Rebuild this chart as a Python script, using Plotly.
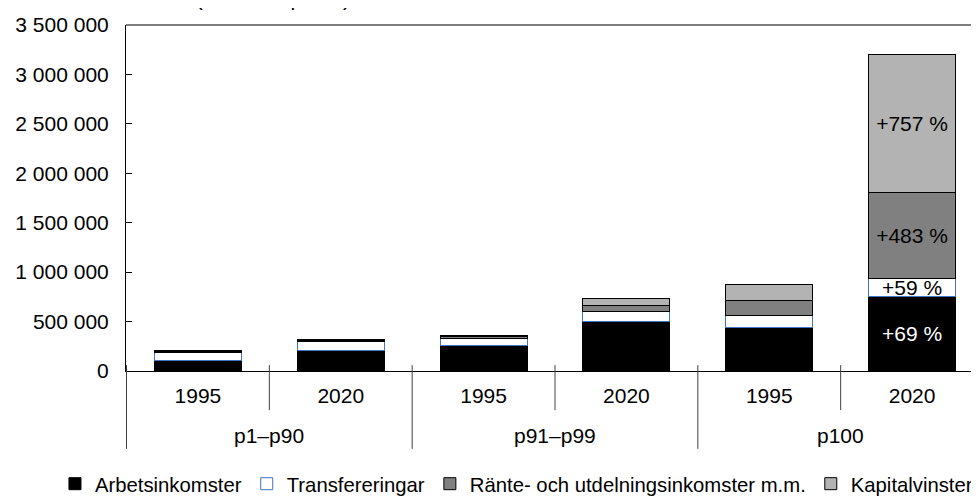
import plotly.graph_objects as go

# Inkomstgrupper och år
groups = ["p1–p90", "p91–p99", "p100"]
years = ["1995", "2020"]
categories = [f"{g} {y}" for g in groups for y in years]
year_labels = [y for g in groups for y in years]

# Inkomstkomponenter, kronor per person
arbetsinkomster = [110000, 212000, 262000, 504000, 444000, 750000]
transfereringar = [78000, 90000, 65000, 100000, 118000, 188000]
rante_utdelning = [10000, 10000, 18000, 60000, 148000, 863000]
kapitalvinster = [8000, 8000, 12000, 70000, 163000, 1397000]

# Procentuell förändring 1995-2020 för p100 (visas i sista stapeln)
change_labels = ["+69 %", "+59 %", "+483 %", "+757 %"]

series = [
    ("Arbetsinkomster", arbetsinkomster, "black", "black", "white"),
    ("Transfereringar", transfereringar, "white", "#4472C4", "black"),
    ("Ränte- och utdelningsinkomster m.m.", rante_utdelning, "#808080", "black", "black"),
    ("Kapitalvinster", kapitalvinster, "#b3b3b3", "black", "black"),
]

FONT = "Liberation Sans, Arial, sans-serif"
FS = 21

fig = go.Figure()
for (name, vals, fill, line, txtcol), lab in zip(series, change_labels):
    text = [""] * (len(vals) - 1) + [lab]
    fig.add_trace(go.Bar(
        name=name,
        x=categories,
        y=vals,
        marker=dict(color=fill, line=dict(color=line, width=1)),
        text=text,
        textposition="inside",
        insidetextanchor="middle",
        textangle=0,
        textfont=dict(color=txtcol, size=FS, family=FONT),
        hoverinfo="skip",
    ))

# sidan har 8 px marginal i webbläsaren, därav t=17 och l=118
fig.update_layout(
    barmode="stack",
    bargap=0.39,
    width=979,
    height=499,
    margin=dict(l=118, r=3, t=17, b=136, autoexpand=False),
    plot_bgcolor="white",
    paper_bgcolor="white",
    separators=", ",
    font=dict(family=FONT, size=FS, color="black"),
    uniformtext=dict(minsize=FS, mode="show"),
    showlegend=True,
    legend=dict(
        orientation="h",
        traceorder="normal",
        x=-0.0828,
        xanchor="left",
        y=-0.3266,
        yanchor="middle",
        font=dict(size=20.3, family=FONT),
        itemclick=False,
    ),
)

fig.update_xaxes(
    type="category",
    tickvals=categories,
    ticktext=year_labels,
    showline=True,
    linecolor="black",
    linewidth=1,
    ticks="",
    ticklabelstandoff=6,
    showgrid=False,
    automargin=False,
    tickfont=dict(size=FS, family=FONT),
)

fig.update_yaxes(
    range=[0, 3500000],
    dtick=500000,
    tickformat=",d",
    showline=True,
    linecolor="black",
    linewidth=1,
    ticks="inside",
    ticklen=6,
    tickcolor="black",
    showgrid=False,
    zeroline=False,
    automargin=False,
    ticklabelstandoff=12,
    tickfont=dict(size=FS, family=FONT),
)

# övre ramlinje
fig.add_shape(type="line", xref="paper", yref="paper", x0=0, x1=1, y0=1, y1=1,
              line=dict(color="#7f7f7f", width=2))

# skiljelinjer mellan år (korta) och mellan grupper (långa)
n_years = len(years)
for i in range(len(categories) + 1):
    long_line = i % n_years == 0
    fig.add_shape(
        type="line", xref="x", yref="paper",
        x0=i - 0.5, x1=i - 0.5,
        y0=0.017, y1=-0.225 if long_line else -0.113,
        line=dict(color="#404040", width=1),
    )

# grupprubriker under årtalen
for k, g in enumerate(groups):
    fig.add_annotation(
        text=g, xref="x", yref="paper",
        x=k * n_years + (n_years - 1) / 2, y=-0.185,
        xanchor="center", yanchor="middle",
        showarrow=False,
        font=dict(size=FS, family=FONT),
    )

# axeltitel ovanför diagrammet (delvis utanför bilden)
fig.add_annotation(
    text="Kronor (2020 års priser)",
    xref="paper", yref="paper",
    x=(352 - 126) / 858, y=1,
    xanchor="right", yanchor="middle",
    yshift=27,
    showarrow=False,
    font=dict(size=FS, family=FONT),
)

fig.write_html("out.html")
